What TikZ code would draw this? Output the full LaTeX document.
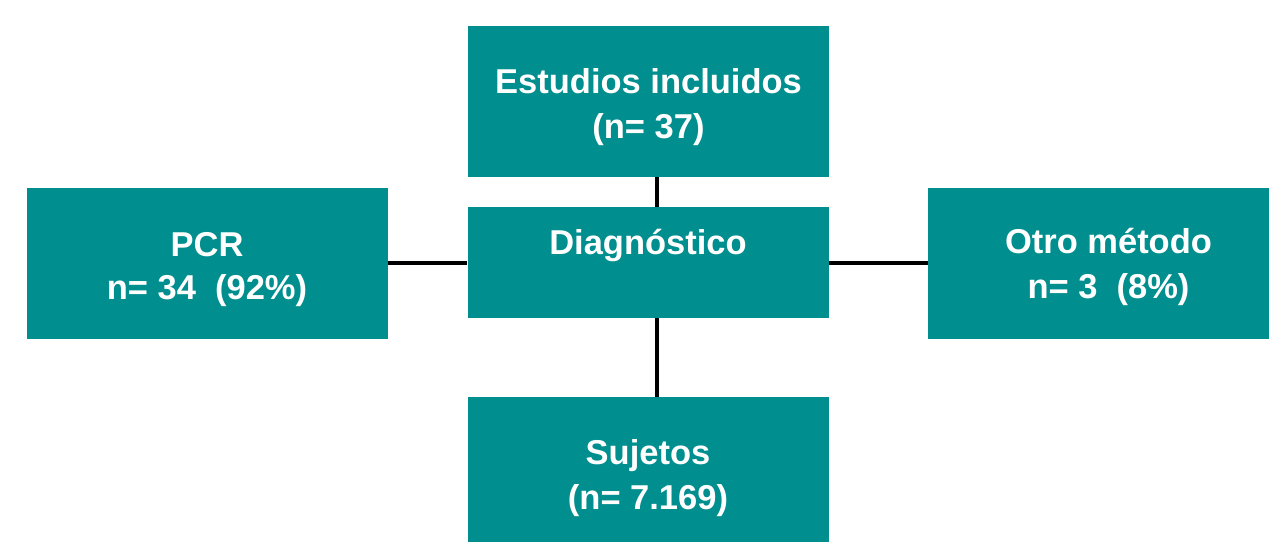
\documentclass[tikz,border=0pt]{standalone}
\usepackage{fontspec}
\setmainfont{Liberation Sans}
\definecolor{boxteal}{RGB}{0,142,142}
\begin{document}
\begin{tikzpicture}[x=1pt,y=-1pt,
  tbox/.style={fill=boxteal, draw=none, inner sep=0pt,
    minimum width=361pt, minimum height=151pt},
  ttext/.style={text=white, inner sep=0pt, anchor=base,
    font=\fontsize{34.5}{45}\selectfont\bfseries},
  link/.style={draw=black, line width=3.3pt}]
\useasboundingbox (0,0) rectangle (1269,541);
\clip (0,0) rectangle (1269,541);
\fill[white] (0,0) rectangle (1269,541);
% boxes
\node[tbox] (top) at (648,101.5) {};
\node[tbox, minimum height=111pt] (mid) at (648,262.5) {};
\node[tbox, minimum width=360.5pt, minimum height=151.5pt] (pcr) at (207.25,263.25) {};
\node[tbox, minimum height=151.5pt] (otro) at (1108.5,263.25) {};
\node[tbox] (suj) at (648,472.5) {};
% texts
\node[ttext] (top1) at (648.5,93) {Estudios incluidos};
\node[ttext] (top2) at (648.5,138) {(n= 37)};
\node[ttext] (mid1) at (648,254) {Diagnóstico};
\node[ttext] (pcr1) at (207,256) {PCR};
\node[ttext] (pcr2) at (207,299) {n= 34\ \ (92\%)};
\node[ttext] (otro1) at (1108.5,253) {Otro método};
\node[ttext] (otro2) at (1108.5,298) {n= 3\ \ (8\%)};
\node[ttext] (suj1) at (648,464) {Sujetos};
\node[ttext] (suj2) at (648,509) {(n= 7.169)};
% connectors
\draw[link] ([xshift=9pt]top.south) -- ([xshift=9pt]mid.north);
\draw[link] ([xshift=9pt]mid.south) -- ([xshift=9pt]suj.north);
\draw[link] (pcr.east |- 0,263) -- (mid.west |- 0,263);
\draw[link] (mid.east |- 0,263) -- (otro.west |- 0,263);
\end{tikzpicture}
\end{document}
